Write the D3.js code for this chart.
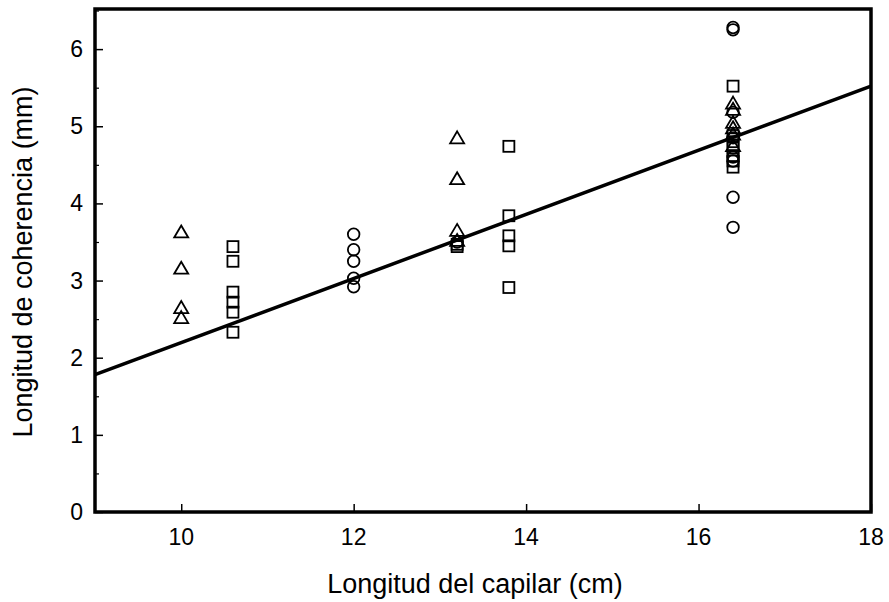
<!DOCTYPE html>
<html><head><meta charset="utf-8">
<script src="https://cdn.jsdelivr.net/npm/d3@7"></script>
<style>body{margin:0;background:#fff}svg{display:block}text{font-family:"Liberation Sans",Arial,sans-serif;fill:#000}</style>
</head><body><svg id="c" width="889" height="602"></svg>
<script>
const xTicks = [10, 12, 14, 16, 18];
const yTicks = [0, 1, 2, 3, 4, 5, 6];
const yMinorTicks = [0.5, 1.5, 2.5, 3.5, 4.5, 5.5, 6.5];
const xTitle = "Longitud del capilar (cm)";
const yTitle = "Longitud de coherencia (mm)";
const fitLine = [[9, 1.78], [18, 5.52]];
const triangles = [
  [10, 3.63], [10, 3.16], [10, 2.65], [10, 2.52],
  [13.2, 4.85], [13.2, 4.32], [13.2, 3.65], [13.2, 3.52],
  [16.4, 5.3], [16.4, 5.22], [16.4, 5.05], [16.4, 4.98], [16.4, 4.9], [16.4, 4.75]
];
const squares = [
  [10.6, 3.44], [10.6, 3.25], [10.6, 2.85], [10.6, 2.72], [10.6, 2.59], [10.6, 2.33],
  [13.2, 3.47], [13.2, 3.44],
  [13.8, 4.74], [13.8, 3.84], [13.8, 3.58], [13.8, 3.45], [13.8, 2.91],
  [16.4, 5.52], [16.4, 4.88], [16.4, 4.8], [16.4, 4.72], [16.4, 4.62], [16.4, 4.55], [16.4, 4.47]
];
const circles = [
  [12, 3.60], [12, 3.40], [12, 3.25], [12, 3.03], [12, 2.92],
  [13.2, 3.5],
  [16.4, 6.28], [16.4, 6.25], [16.4, 5.18], [16.4, 4.85], [16.4, 4.6], [16.4, 4.55], [16.4, 4.08], [16.4, 3.69]
];

const L = 95, R = 871, T = 9, B = 512;
const x = d3.scaleLinear().domain([9, 18]).range([L, R]);
const y = d3.scaleLinear().domain([0, 6.52]).range([B, T]);
const svg = d3.select("#c");

// axes with inward ticks
svg.append("g").attr("transform", `translate(0,${B})`)
  .call(d3.axisTop(x).tickValues(xTicks).tickSize(8).tickFormat(""))
  .call(g => g.select(".domain").remove())
  .selectAll("line").attr("stroke-width", 1.5);
svg.append("g").attr("transform", `translate(${L},0)`)
  .call(d3.axisRight(y).tickValues(yTicks).tickSize(8).tickFormat(""))
  .call(g => g.select(".domain").remove())
  .selectAll("line").attr("stroke-width", 1.5);
svg.append("g").attr("transform", `translate(${L},0)`)
  .call(d3.axisRight(y).tickValues(yMinorTicks).tickSize(4).tickFormat(""))
  .call(g => g.select(".domain").remove())
  .selectAll("line").attr("stroke-width", 1.2);

// tick labels
svg.append("g").selectAll("text").data(xTicks).join("text")
  .attr("x", d => x(d)).attr("y", 545).attr("text-anchor", "middle")
  .attr("font-size", 23).text(d => d);
svg.append("g").selectAll("text").data(yTicks).join("text")
  .attr("x", 83).attr("y", d => y(d) + 8).attr("text-anchor", "end")
  .attr("font-size", 23).text(d => d);

// fit line
svg.append("path").datum(fitLine)
  .attr("d", d3.line().x(d => x(d[0])).y(d => y(d[1])))
  .attr("stroke", "#000").attr("stroke-width", 3.5).attr("fill", "none");

// markers
const sw = 1.8;
svg.append("g").selectAll("rect").data(squares).join("rect")
  .attr("x", d => x(d[0]) - 5.5).attr("y", d => y(d[1]) - 5.5)
  .attr("width", 11).attr("height", 11)
  .attr("fill", "none").attr("stroke", "#000").attr("stroke-width", sw);
svg.append("g").selectAll("path").data(triangles).join("path")
  .attr("d", d => { const cx = x(d[0]), cy = y(d[1]); return `M${cx},${cy-6.5}L${cx+7},${cy+5.5}L${cx-7},${cy+5.5}Z`; })
  .attr("fill", "none").attr("stroke", "#000").attr("stroke-width", sw);
svg.append("g").selectAll("circle").data(circles).join("circle")
  .attr("cx", d => x(d[0])).attr("cy", d => y(d[1])).attr("r", 5.8)
  .attr("fill", "none").attr("stroke", "#000").attr("stroke-width", sw);

// frame
svg.append("rect").attr("x", L).attr("y", T).attr("width", R - L).attr("height", B - T)
  .attr("fill", "none").attr("stroke", "#000").attr("stroke-width", 3.5);

// titles
svg.append("text").attr("x", 475).attr("y", 593).attr("text-anchor", "middle")
  .attr("font-size", 27).text(xTitle);
svg.append("text").attr("transform", "translate(32,262) rotate(-90)").attr("text-anchor", "middle")
  .attr("font-size", 27).text(yTitle);
</script></body></html>
